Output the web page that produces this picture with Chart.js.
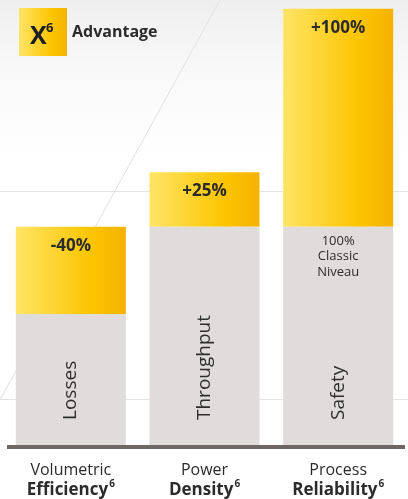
<!DOCTYPE html>
<html>
<head>
<meta charset="utf-8">
<script src="https://cdn.jsdelivr.net/npm/chart.js@4.4.1/dist/chart.umd.min.js"></script>
<style>
  html, body { margin: 0; padding: 0; background: #fff; }
  #wrap { width: 408px; height: 499px; position: relative; }
</style>
</head>
<body>
<div id="wrap"><canvas id="x6Chart"></canvas></div>
<script>
const categoryTop = ['Volumetric', 'Power', 'Process'];
const categoryBottom = ['Efficiency', 'Density', 'Reliability'];
const innerLabels = ['Losses', 'Throughput', 'Safety'];
const classicValues = [60, 100, 100];
const advantageValues = [40, 25, 100];
const advantageLabels = ['-40%', '+25%', '+100%'];
const classicNote = ['100%', 'Classic', 'Niveau'];
const classicNoteIndex = 2;

const FONT = '"Open Sans", "Noto Sans", sans-serif';
const TEXT = '#2b2b2b';
const BAR_PCT = 0.823;

function yellowGradient(c, x0, x1) {
    const g = c.createLinearGradient(x0, 0, x1, 0);
    g.addColorStop(0, '#ffe466');
    g.addColorStop(0.68, '#fcc500');
    g.addColorStop(1, '#f5b200');
    return g;
}

// gradient per bar, computed from the x scale
function yellowFill(ctx) {
    const chart = ctx.chart;
    if (!chart.chartArea) return '#fcc500';
    const xScale = chart.scales.x;
    const cx = xScale.getPixelForValue(ctx.dataIndex);
    const half = (xScale.width / categoryTop.length) * BAR_PCT / 2;
    return yellowGradient(chart.ctx, cx - half, cx + half);
}

const decor = {
    id: 'x6Decor',
    beforeDraw(chart) {
        const c = chart.ctx;
        const w = chart.width, h = chart.height;
        c.save();
        c.fillStyle = '#fff';
        c.fillRect(0, 0, w, h);
        const g = c.createLinearGradient(0, 0, 0, 190);
        g.addColorStop(0, '#eeeeee');
        g.addColorStop(1, 'rgba(255,255,255,0)');
        c.fillStyle = g;
        c.fillRect(0, 0, w, 190);
        // thin guide lines behind the bars
        c.strokeStyle = '#e4e4e4';
        c.lineWidth = 1;
        [191.5, 399.5].forEach(y => {
            c.beginPath(); c.moveTo(0, y); c.lineTo(w, y); c.stroke();
        });
        c.strokeStyle = '#e0e0e0';
        c.beginPath(); c.moveTo(220, 0); c.lineTo(0, 400); c.stroke();
        c.restore();
    },
    afterDatasetsDraw(chart) {
        const c = chart.ctx;
        const area = chart.chartArea;
        const xScale = chart.scales.x;
        const yScale = chart.scales.y;
        const grey = chart.getDatasetMeta(0).data;
        const gold = chart.getDatasetMeta(1).data;
        const base = yScale.getPixelForValue(0);
        c.save();

        // base line
        c.fillStyle = '#6e6766';
        c.fillRect(area.left + 3, base, area.right - area.left - 3, 4);

        // advantage labels
        c.fillStyle = TEXT;
        c.textAlign = 'center';
        c.textBaseline = 'middle';
        c.font = 'bold 17px ' + FONT;
        gold.forEach((bar, i) => c.fillText(advantageLabels[i], bar.x, bar.y + 19));

        // vertical labels inside grey bars
        c.font = '19px ' + FONT;
        c.fillStyle = '#2e2e2e';
        grey.forEach((bar, i) => {
            c.save();
            c.translate(bar.x, bar.base - 25);
            c.rotate(-Math.PI / 2);
            c.textAlign = 'left';
            c.fillText(innerLabels[i], 0, 0);
            c.restore();
        });

        // classic niveau note
        c.fillStyle = TEXT;
        c.font = '13px ' + FONT;
        c.textAlign = 'center';
        const nb = grey[classicNoteIndex];
        classicNote.forEach((t, k) => c.fillText(t, nb.x, nb.y + 14 + k * 15.5));

        // category labels under the axis
        c.textBaseline = 'alphabetic';
        categoryTop.forEach((t, i) => {
            const x = xScale.getPixelForValue(i);
            c.font = '16px ' + FONT;
            c.textAlign = 'center';
            c.fillText(t, x, 475);
            c.font = 'bold 17px ' + FONT;
            const wMain = c.measureText(categoryBottom[i]).width;
            c.font = 'bold 10px ' + FONT;
            const wSup = c.measureText('6').width;
            const left = x - (wMain + wSup + 1) / 2;
            c.textAlign = 'left';
            c.font = 'bold 17px ' + FONT;
            c.fillText(categoryBottom[i], left, 495);
            c.font = 'bold 10px ' + FONT;
            c.fillText('6', left + wMain + 1, 487);
        });

        // legend box
        c.fillStyle = yellowGradient(c, 19, 67);
        c.fillRect(19, 8, 48, 48);
        c.fillStyle = '#1e1e1e';
        c.font = 'bold 25px ' + FONT;
        c.fillText('X', 30, 44);
        c.font = 'bold 13px ' + FONT;
        c.fillText('6', 46, 32);
        c.fillStyle = TEXT;
        c.font = 'bold 16px ' + FONT;
        c.fillText('Advantage', 72, 37);
        c.restore();
    }
};

new Chart(document.getElementById('x6Chart'), {
    type: 'bar',
    data: {
        labels: categoryTop,
        datasets: [
            {
                label: 'Classic',
                data: classicValues,
                backgroundColor: '#e0dcdc',
                borderWidth: 0
            },
            {
                label: 'X6 Advantage',
                data: advantageValues,
                backgroundColor: yellowFill,
                borderWidth: 0
            }
        ]
    },
    options: {
        responsive: true,
        maintainAspectRatio: false,
        animation: false,
        layout: { padding: { left: 4, right: 3, top: 0, bottom: 54 } },
        datasets: { bar: { barPercentage: BAR_PCT, categoryPercentage: 1 } },
        plugins: {
            legend: { display: false },
            tooltip: { enabled: false }
        },
        scales: {
            x: { stacked: true, display: false },
            y: { stacked: true, display: false, min: 0, max: 204 }
        }
    },
    plugins: [decor]
});
</script>
</body>
</html>
